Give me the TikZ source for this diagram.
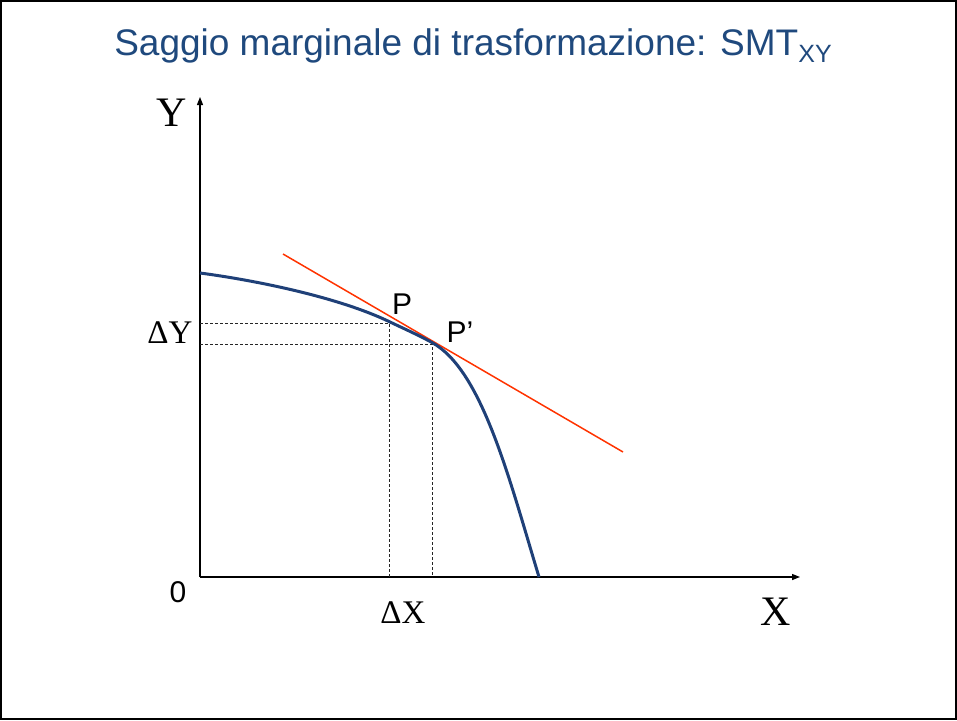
\documentclass[tikz,border=0pt]{standalone}
\usepackage{fontspec}
\setmainfont{Liberation Serif}
\newfontfamily\arialfont{Liberation Sans}
\usepackage{xcolor}
\usetikzlibrary{arrows.meta, positioning}

\definecolor{titleblue}{RGB}{31,73,125}
\definecolor{curveblue}{RGB}{31,64,120}
\definecolor{tangred}{RGB}{255,51,0}

\begin{document}
\begin{tikzpicture}[
  x=1pt, y=-1pt,
  axis/.style={line width=1.3pt, -{Triangle[length=8pt,width=6pt]}},
  guide/.style={line width=0.7pt, dash pattern=on 3pt off 2pt, black!85},
  lab/.style={inner sep=0pt, font=\fontsize{42}{42}\selectfont},
  dlab/.style={inner sep=0pt, font=\fontsize{33}{33}\selectfont},
  slab/.style={inner sep=0pt, font=\arialfont\fontsize{30}{30}\selectfont}
]
\useasboundingbox (0,0) rectangle (957,720);
\draw[line width=2pt] (1,1) rectangle (956,719);

% title
\node[anchor=base, inner sep=0pt, text=titleblue,
  font=\arialfont\fontsize{37}{37}\selectfont] (title) at (473,55)
  {Saggio marginale di trasformazione: SMT\raisebox{-7pt}{\fontsize{25}{25}\selectfont XY}};

% axes
\coordinate (O) at (200,577);
\coordinate (Ytop) at (200,97);
\coordinate (Xend) at (800,577);
\draw[axis] (O) -- (Ytop);
\draw[axis] (O) -- (Xend);

% points on the curve
\coordinate (P) at (389,323);
\coordinate (Pp) at (432,344);
\coordinate (Py) at (200,323);
\coordinate (Ppy) at (200,344);
\coordinate (Px) at (389,577);
\coordinate (Ppx) at (432,577);

\draw[guide] (Py) -- (P) -- (Px);
\draw[guide] (Ppy) -- (Pp) -- (Ppx);

% tangent
\coordinate (T1) at (283,254);
\coordinate (T2) at (623,452);
\draw[tangred, line width=1.5pt] (T1) -- (T2);

% frontier
\draw[curveblue, line width=3pt] (200,273)
  .. controls (260,281) and (340,298) .. (389,321.5)
  .. controls (404,328.7) and (418,334.8) .. (432,342.5)
  .. controls (482,370) and (509,478) .. (539,577);

% labels
\node[lab] (ylab) at (172,113) {Y};
\node[lab] (xlab) at (776,612) {X};
\node[dlab] (dy) at (170,333) {ΔY};
\node[dlab] (dx) at (403,613) {ΔX};
\node[slab] (zero) at (178,592) {0};
\node[slab] (plab) at (402,304) {P};
\node[slab] (pplab) at (460,332) {P’};
\end{tikzpicture}
\end{document}
